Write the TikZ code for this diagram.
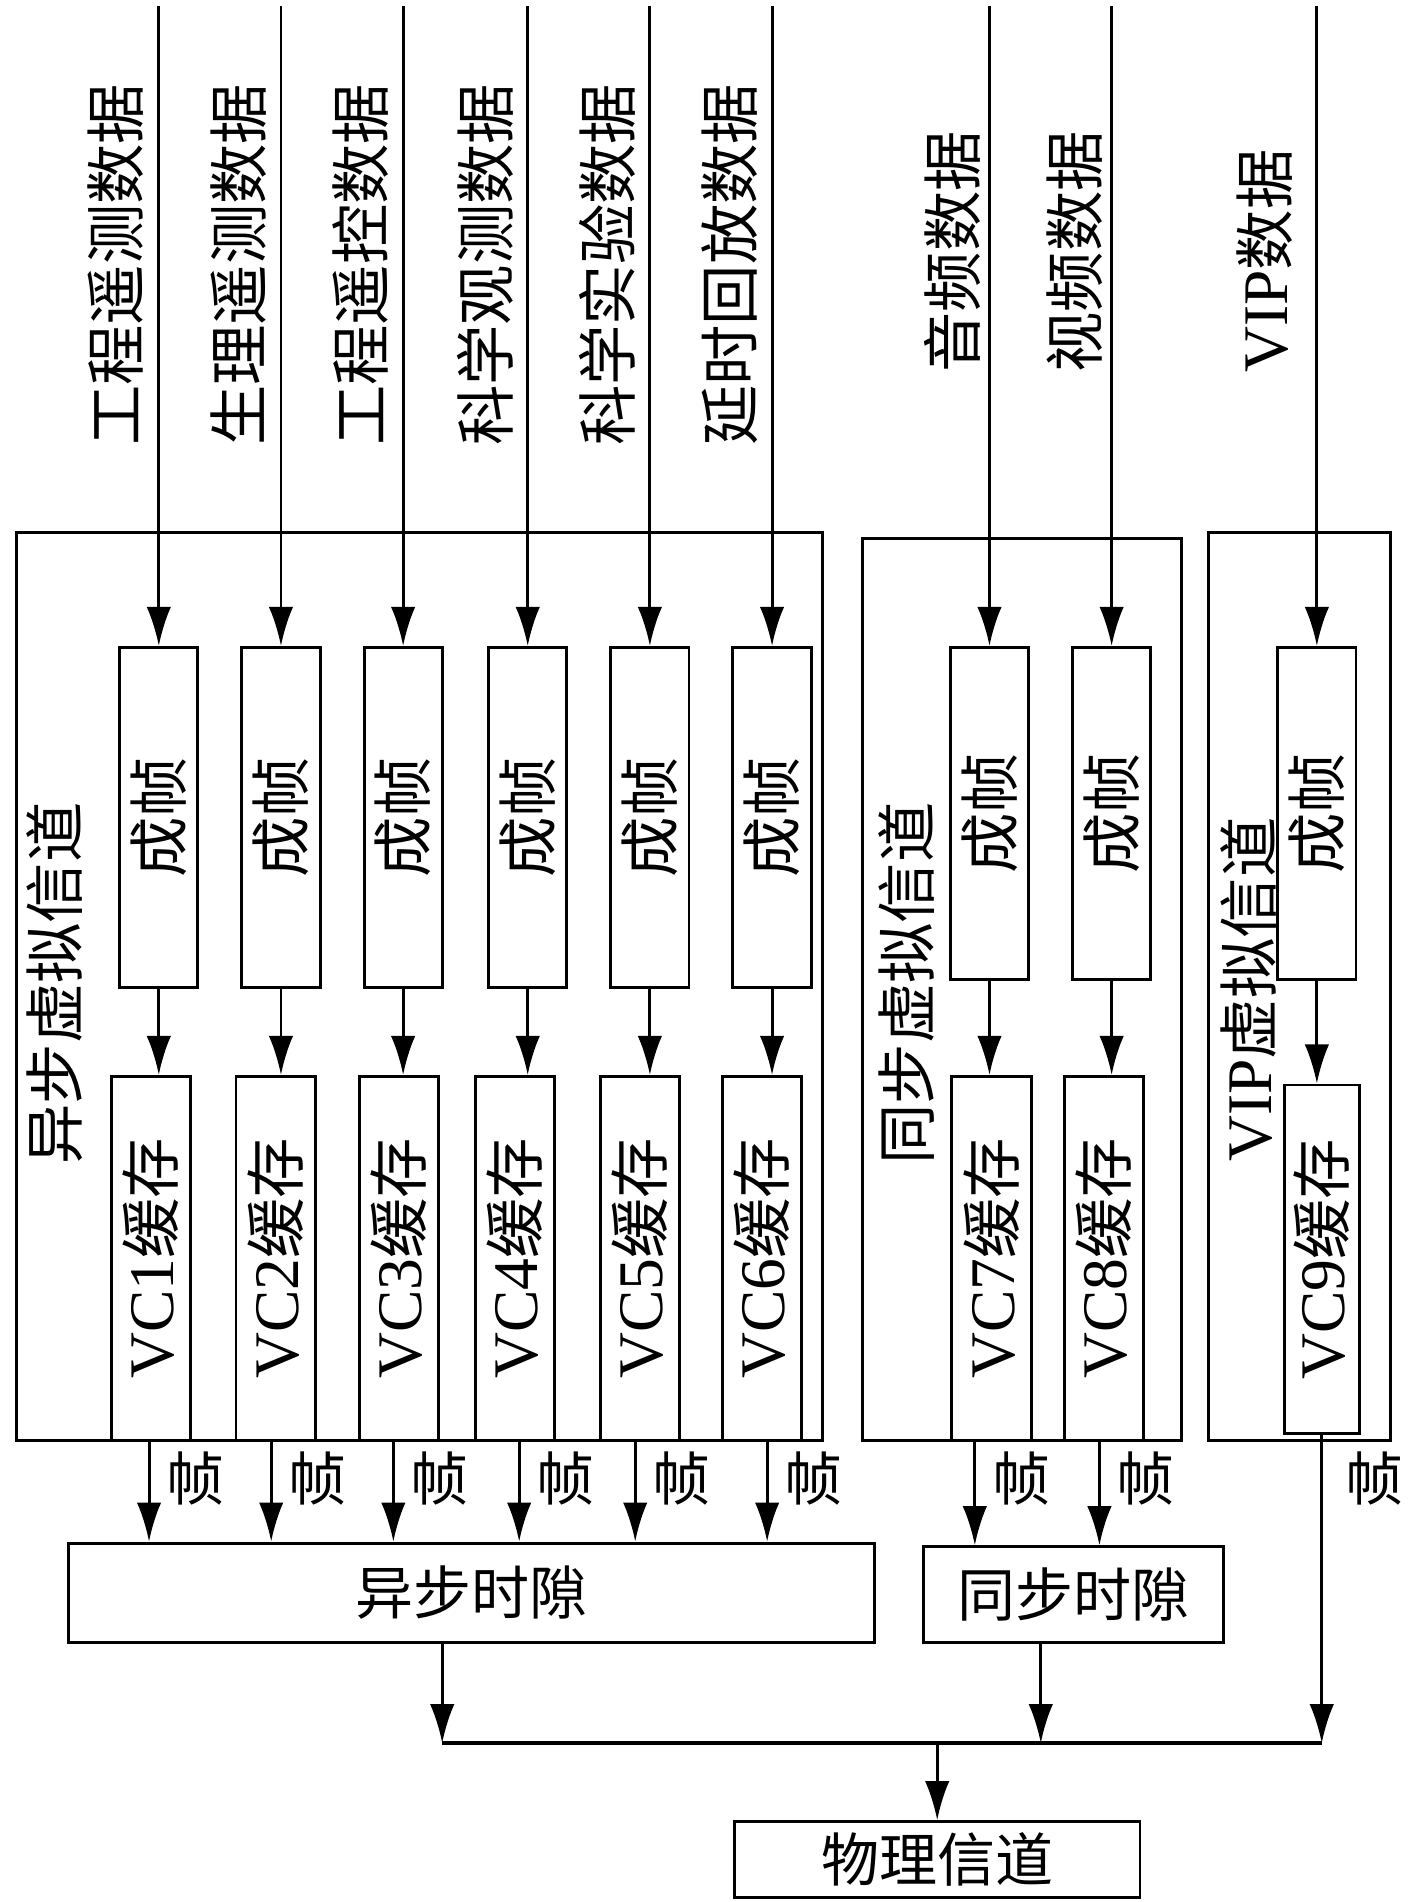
\documentclass[tikz,border=0pt]{standalone}
\usepackage{fontspec}
\setmainfont{Liberation Serif}
\newfontfamily\cjk{Noto Sans CJK SC}[Scale=0.95]
\usetikzlibrary{positioning, arrows.meta}
\tikzset{
  box/.style={draw, line width=1.2pt, inner sep=0pt},
  flow/.style={line width=1.2pt, -{Latex[length=16pt,width=10pt]}},
  vlab/.style={rotate=90, font=\fontsize{26pt}{26pt}\selectfont},
  lab/.style={font=\fontsize{25pt}{25pt}\selectfont}
}
\begin{document}
\begin{tikzpicture}[x=0.5pt,y=-0.5pt]
   \useasboundingbox (0,0) rectangle (1160,1557);
   % outer channel boxes
   \node[box, anchor=north west, minimum width=330pt, minimum height=371.5pt] (async) at (12,435) {};
   \node[box, anchor=north west, minimum width=130.5pt, minimum height=369pt] (sync) at (705,440) {};
   \node[box, anchor=north west, minimum width=74.5pt, minimum height=371.5pt] (vip) at (988,435) {};
   \node[vlab, anchor=center] (async_l) at (45,805) {\cjk 异步虚拟信道};
   \node[vlab, anchor=center] (sync_l) at (742,805) {\cjk 同步虚拟信道};
   \node[vlab, anchor=center] (vip_l) at (1022,810) {VIP{\cjk 虚拟信道}};

   % slot boxes
   \node[box, anchor=north west, minimum width=330pt, minimum height=40.5pt, lab] (aslot) at (55,1262) {\cjk 异步时隙};
   \node[box, anchor=north west, minimum width=122.5pt, minimum height=39pt, lab] (sslot) at (755,1265) {\cjk 同步时隙};
   \node[box, anchor=north west, minimum width=166pt, minimum height=31pt, lab] (phy) at (600,1490) {\cjk 物理信道};

   % asynchronous channels
   \foreach \i/\x/\vc/\fo/\txt in {1/130/90/122/工程遥测数据, 2/230/192/222/生理遥测数据,
        3/330/293/322/工程遥控数据, 4/432/388/425/科学观测数据,
        5/532/490/520/科学实验数据, 6/632/590/628/延时回放数据}{
     \node[box, minimum width=32pt, minimum height=139pt] (fr\i) at (\x,669) {};
     \node[vlab] at (fr\i.center) {\cjk 成帧};
     \node[box, anchor=north west, minimum width=32.5pt, minimum height=149pt] (vc\i) at (\vc,880) {};
     \node[vlab] at (vc\i.center) {VC\i{\cjk 缓存}};
     \node[vlab, anchor=west] (in\i) at (\x-35,372) {\cjk \txt};
     \coordinate (top\i) at (\x,5);
     \draw[flow] (top\i) -- (fr\i.north);
     \draw[flow] (fr\i.south) -- (\x,880);
     \draw[flow] (\fo,1178) -- (\fo,1262);
     \node[lab] at (\fo+38,1210) {\cjk 帧};
   }

   % synchronous channels
   \foreach \i/\x/\vc/\fo/\txt in {7/810/778/798/音频数据, 8/910/870/900/视频数据}{
     \node[box, minimum width=32pt, minimum height=136pt] (fr\i) at (\x,666) {};
     \node[vlab] at (fr\i.center) {\cjk 成帧};
     \node[box, anchor=north west, minimum width=32.5pt, minimum height=149pt] (vc\i) at (\vc,880) {};
     \node[vlab] at (vc\i.center) {VC\i{\cjk 缓存}};
     \node[vlab, anchor=west] (in\i) at (\x-30,312) {\cjk \txt};
     \coordinate (top\i) at (\x,5);
     \draw[flow] (top\i) -- (fr\i.north);
     \draw[flow] (fr\i.south) -- (\x,880);
     \draw[flow] (\fo,1178) -- (\fo,1265);
     \node[lab] at (\fo+38,1210) {\cjk 帧};
   }

   % VIP channel
   \node[box, minimum width=32pt, minimum height=136pt] (fr9) at (1078,666) {};
   \node[vlab] at (fr9.center) {\cjk 成帧};
   \node[box, anchor=north west, minimum width=31pt, minimum height=142.5pt] (vc9) at (1050,887) {};
   \node[vlab] at (vc9.center) {VC9{\cjk 缓存}};
   \node[vlab, anchor=west] (in9) at (1035,312) {VIP{\cjk 数据}};
   \coordinate (top9) at (1078,5);
   \draw[flow] (top9) -- (fr9.north);
   \draw[flow] (fr9.south) -- (1078,887);
   \node[lab] at (1125,1210) {\cjk 帧};

   % bus to physical channel
   \coordinate (busl) at (362,1427);
   \coordinate (busm) at (852,1427);
   \coordinate (busr) at (1082,1427);
   \draw[line width=1.5pt] (busl) -- (busr);
   \draw[flow] (aslot.south -| busl) -- (busl);
   \draw[flow] (sslot.south -| busm) -- (busm);
   \draw[flow] (vc9.south -| busr) -- (busr);
   \draw[flow] (phy.north |- busl) -- (phy.north);
\end{tikzpicture}
\end{document}
